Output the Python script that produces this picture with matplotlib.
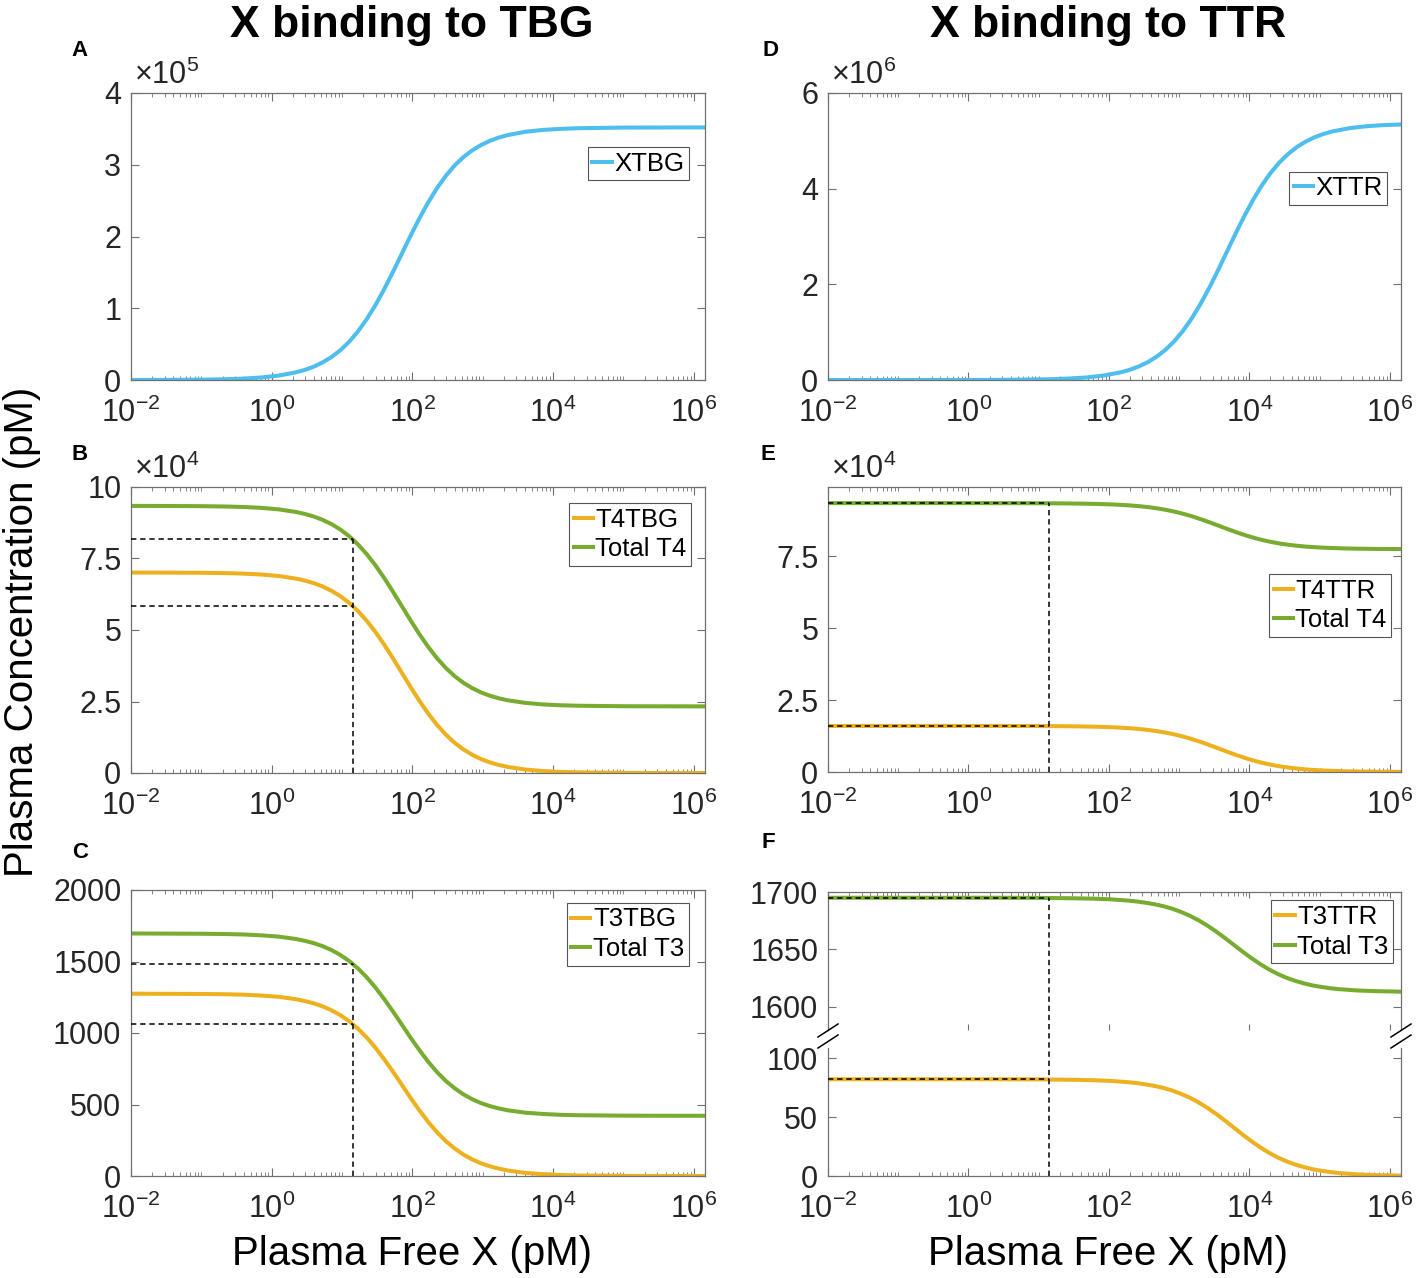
import matplotlib
matplotlib.use("Agg")
import matplotlib.pyplot as plt
import numpy as np
from matplotlib.lines import Line2D
from matplotlib.ticker import FixedLocator, LogLocator, NullFormatter, FuncFormatter

FONT = "Liberation Sans"
plt.rcParams["font.family"] = [FONT, "DejaVu Sans"]
plt.rcParams["mathtext.fontset"] = "custom"
plt.rcParams["mathtext.rm"] = FONT
plt.rcParams["mathtext.it"] = FONT + ":italic"
plt.rcParams["mathtext.bf"] = FONT + ":bold"

# ---- data ------------------------------------------------------------------
# x = plasma free X (pM), given as log10; samples are denser where curves bend

# left column (TBG): panels A, B, C share one x grid
LOG_X_TBG = [-2, -1.5, -1, -0.65, -0.4, -0.15, 0.1, 0.35, 0.475, 0.6, 0.725,
             0.85, 0.975, 1.1, 1.225, 1.35, 1.475, 1.6, 1.725, 1.85, 1.975,
             2.1, 2.225, 2.35, 2.475, 2.6, 2.725, 2.85, 2.975, 3.1, 3.225,
             3.35, 3.6, 3.85, 4.1, 4.35, 5, 5.5, 6, 6.16]
XTBG = [50, 160, 500, 1110, 1970, 3490, 6150, 10800, 14200, 18700, 24600,
        32000, 41400, 53100, 67500, 84600, 104400, 126700, 150800, 176000,
        201200, 225300, 247600, 267400, 284500, 298900, 310600, 320000, 327400,
        333300, 337800, 341200, 345900, 348500, 350000, 350900, 351800, 351900,
        352000, 352000]
T4TBG = [70090, 70070, 70000, 69880, 69710, 69410, 68880, 67950, 67260, 66370,
         65210, 63730, 61850, 59520, 56660, 53260, 49310, 44870, 40060, 35050,
         30040, 25230, 20790, 16840, 13440, 10580, 8250, 6370, 4890, 3730,
         2840, 2150, 1230, 690, 390, 220, 50, 20, 5, 3]
TOTAL_T4_TBG = [93390, 93370, 93300, 93180, 93010, 92710, 92180, 91250, 90560,
                89670, 88510, 87030, 85150, 82820, 79960, 76560, 72610, 68170,
                63360, 58350, 53340, 48530, 44090, 40140, 36740, 33880, 31550,
                29670, 28190, 27030, 26140, 25450, 24530, 23990, 23690, 23520,
                23350, 23320, 23305, 23303]
T3TBG = [1275, 1274, 1273, 1271, 1268, 1262, 1253, 1236, 1223, 1207, 1186,
         1159, 1125, 1083, 1031, 969, 897, 816, 729, 638, 546, 459, 378, 306,
         244, 193, 150, 116, 89, 68, 52, 39, 22, 13, 7, 4, 1, 0.3, 0.1, 0.1]
TOTAL_T3_TBG = [1696, 1695, 1694, 1692, 1689, 1683, 1674, 1657, 1644, 1628,
                1607, 1580, 1546, 1504, 1452, 1390, 1318, 1237, 1150, 1059,
                967, 880, 799, 727, 665, 614, 571, 537, 510, 489, 473, 460,
                443, 434, 428, 425, 422, 421.3, 421.1, 421.1]

# panel D
LOG_X_D = [-2, -1, 0, 0.5, 1.18, 1.43, 1.68, 1.93, 2.18, 2.305, 2.43, 2.555,
           2.68, 2.805, 2.93, 3.055, 3.18, 3.305, 3.43, 3.555, 3.68, 3.805,
           3.93, 4.055, 4.18, 4.305, 4.43, 4.555, 4.68, 4.805, 4.93, 5.055,
           5.18, 5.43, 5.68, 5.93, 6.16]
XTTR = [11, 112, 1120, 3540, 16900, 30000, 53100, 93600, 164300, 216900,
        285400, 373900, 487300, 630700, 809300, 1027000, 1288000, 1590000,
        1929000, 2297000, 2680000, 3063000, 3431000, 3770000, 4072000, 4333000,
        4551000, 4729000, 4873000, 4986000, 5075000, 5143000, 5196000, 5266000,
        5307000, 5330000, 5342000]

# panel E
LOG_X_E = [-2, -1, 0, 0.5, 1.08, 1.33, 1.58, 1.83, 2.08, 2.205, 2.33, 2.455,
           2.58, 2.705, 2.83, 2.955, 3.08, 3.205, 3.33, 3.455, 3.58, 3.705,
           3.83, 3.955, 4.08, 4.205, 4.33, 4.455, 4.58, 4.705, 4.83, 4.955,
           5.08, 5.33, 5.58, 5.83, 6.08, 6.16]
T4TTR = [16000, 16000, 16000, 15990, 15950, 15910, 15840, 15720, 15510, 15350,
         15150, 14880, 14550, 14120, 13580, 12930, 12160, 11250, 10240, 9140,
         8000, 6860, 5760, 4750, 3840, 3070, 2420, 1880, 1460, 1120, 850, 650,
         490, 280, 160, 90, 50, 42]
TOTAL_T4_TTR = [93400, 93400, 93400, 93390, 93350, 93310, 93240, 93120, 92910,
                92750, 92550, 92280, 91950, 91520, 90980, 90330, 89560, 88650,
                87640, 86540, 85400, 84260, 83160, 82150, 81240, 80470, 79820,
                79280, 78860, 78520, 78250, 78050, 77890, 77680, 77560, 77490,
                77450, 77440]

# panel F
LOG_X_F = [-2, -1, 0, 0.5, 1.0, 1.28, 1.53, 1.78, 2.03, 2.28, 2.405, 2.53,
           2.655, 2.78, 2.905, 3.03, 3.155, 3.28, 3.405, 3.53, 3.655, 3.78,
           3.905, 4.03, 4.155, 4.28, 4.405, 4.53, 4.655, 4.78, 4.905, 5.03,
           5.155, 5.28, 5.53, 5.78, 6.03, 6.16]
T3TTR = [82.0, 82.0, 82.0, 82.0, 81.9, 81.7, 81.5, 81.2, 80.6, 79.5, 78.7,
         77.6, 76.3, 74.6, 72.4, 69.6, 66.3, 62.3, 57.7, 52.5, 46.9, 41.0,
         35.1, 29.5, 24.3, 19.7, 15.7, 12.4, 9.7, 7.5, 5.7, 4.4, 3.3, 2.5,
         1.4, 0.8, 0.5, 0.3]
TOTAL_T3_TTR = [1695.0, 1695.0, 1695.0, 1695.0, 1694.9, 1694.7, 1694.5,
                1694.2, 1693.6, 1692.5, 1691.7, 1690.6, 1689.3, 1687.6,
                1685.4, 1682.6, 1679.3, 1675.3, 1670.7, 1665.5, 1659.9,
                1654.0, 1648.1, 1642.5, 1637.3, 1632.7, 1628.7, 1625.4,
                1622.7, 1620.5, 1618.7, 1617.4, 1616.3, 1615.5, 1614.4,
                1613.8, 1613.5, 1613.3]

# dashed reference: free X value and the concentrations read there
DASH_X = 14.1
DASH_B = [81700, 58400]
DASH_C = [1483, 1062]
DASH_E = [93340, 15940]
DASH_F = [1694.8, 81.8]

X_TBG = 10.0 ** np.array(LOG_X_TBG)
X_D = 10.0 ** np.array(LOG_X_D)
X_E = 10.0 ** np.array(LOG_X_E)
X_F = 10.0 ** np.array(LOG_X_F)
X_MIN, X_MAX = 1e-2, 10 ** 6.16
XTICKS = [1e-2, 1e0, 1e2, 1e4, 1e6]

BLUE, YELLOW, GREEN = "#4DBEEE", "#EDB120", "#77AC30"
AXCOL = "#262626"
SPINE = "#707070"
LW = 2.9
TICK_FS = 22
LEG_FS = 18.5
DASH_LS = (0, (3.5, 2.5))

W, H = 1417, 1278
fig = plt.figure(figsize=(W / 100, H / 100), dpi=100)


def pos(l, t, r, b):
    return [l / W, 1 - b / H, (r - l) / W, (b - t) / H]


def dec_fmt(v, p):
    return r"$\mathregular{10^{%d}}$" % int(round(np.log10(v)))


def style(ax, yticks, ylim, scale=1.0, xlabels=True):
    ax.set_xscale("log")
    ax.set_xlim(X_MIN, X_MAX)
    ax.set_ylim(*ylim)
    ax.xaxis.set_major_locator(FixedLocator(XTICKS))
    ax.xaxis.set_major_formatter(FuncFormatter(dec_fmt))
    ax.xaxis.set_minor_locator(LogLocator(base=10, subs=np.arange(1, 10), numticks=60))
    ax.xaxis.set_minor_formatter(NullFormatter())
    ax.set_yticks(yticks)
    ax.yaxis.set_major_formatter(FuncFormatter(lambda v, p: f"{v / scale:g}"))
    ax.tick_params(which="both", direction="in", top=True, right=True,
                   colors=SPINE, labelcolor=AXCOL, labelsize=TICK_FS)
    ax.tick_params(which="major", length=6, width=0.8)
    ax.tick_params(axis="y", pad=7)
    ax.tick_params(axis="x", pad=12.5)
    ax.tick_params(which="minor", length=3, width=0.6)
    if not xlabels:
        ax.tick_params(axis="x", labelbottom=False)
    for s in ax.spines.values():
        s.set_color(SPINE)
        s.set_linewidth(0.9)
    ax.patch.set_alpha(0)


def exp_label(ax, n):
    ax.text(0.005, 1.008, r"$\times\mathregular{10^{%d}}$" % n, transform=ax.transAxes,
            ha="left", va="bottom", fontsize=TICK_FS, color=AXCOL)


def legend(ax, anchor, handles=None):
    leg = ax.legend(handles=handles, loc="upper right", bbox_to_anchor=anchor,
                    fontsize=LEG_FS, handlelength=0.75, handletextpad=0.1,
                    borderpad=0.18, labelspacing=0.22, borderaxespad=0,
                    fancybox=False, framealpha=1, edgecolor="#555555")
    leg.get_frame().set_linewidth(0.8)


def dashes(ax, ys):
    for y in ys:
        ax.plot([X_MIN, DASH_X], [y, y], color="black", lw=1.1, ls=DASH_LS, zorder=5)
    ax.plot([DASH_X, DASH_X], [0, max(ys)], color="black", lw=1.1, ls=DASH_LS, zorder=5)


# ---- A -------------------------------------------------------------------
ax = fig.add_axes(pos(131, 93, 705, 380))
ax.plot(X_TBG, XTBG, color=BLUE, lw=LW, label="XTBG")
style(ax, [0, 1e5, 2e5, 3e5, 4e5], (0, 4e5), 1e5)
exp_label(ax, 5)
legend(ax, (0.972, 0.812))

# ---- B -------------------------------------------------------------------
ax = fig.add_axes(pos(131, 487, 705, 773))
ax.plot(X_TBG, T4TBG, color=YELLOW, lw=LW, label="T4TBG")
ax.plot(X_TBG, TOTAL_T4_TBG, color=GREEN, lw=LW, label="Total T4")
dashes(ax, DASH_B)
style(ax, [0, 2.5e4, 5e4, 7.5e4, 1e5], (0, 1e5), 1e4)
exp_label(ax, 4)
legend(ax, (0.976, 0.944))

# ---- C -------------------------------------------------------------------
ax = fig.add_axes(pos(131, 890, 705, 1176))
ax.plot(X_TBG, T3TBG, color=YELLOW, lw=LW, label="T3TBG")
ax.plot(X_TBG, TOTAL_T3_TBG, color=GREEN, lw=LW, label="Total T3")
dashes(ax, DASH_C)
style(ax, [0, 500, 1000, 1500, 2000], (0, 2000))
legend(ax, (0.972, 0.955))

# ---- D -------------------------------------------------------------------
ax = fig.add_axes(pos(828, 93, 1401, 380))
ax.plot(X_D, XTTR, color=BLUE, lw=LW, label="XTTR")
style(ax, [0, 2e6, 4e6, 6e6], (0, 6e6), 1e6)
exp_label(ax, 6)
legend(ax, (0.976, 0.726))

# ---- E -------------------------------------------------------------------
ax = fig.add_axes(pos(828, 487, 1401, 772))
ax.plot(X_E, T4TTR, color=YELLOW, lw=LW, label="T4TTR")
ax.plot(X_E, TOTAL_T4_TTR, color=GREEN, lw=LW, label="Total T4")
dashes(ax, DASH_E)
style(ax, [0, 2.5e4, 5e4, 7.5e4], (0, 9.9e4), 1e4)
exp_label(ax, 4)
legend(ax, (0.983, 0.695))

# ---- F (broken y axis) ---------------------------------------------------
ax_hi = fig.add_axes(pos(828, 892, 1401, 1030))
ax_lo = fig.add_axes(pos(828, 1048, 1401, 1176))
l_lo, = ax_lo.plot(X_F, T3TTR, color=YELLOW, lw=LW, label="T3TTR")
l_hi, = ax_hi.plot(X_F, TOTAL_T3_TTR, color=GREEN, lw=LW, label="Total T3")
style(ax_hi, [1600, 1650, 1700], (1580, 1700), xlabels=False)
style(ax_lo, [0, 50, 100], (0, 108.5))
ax_hi.spines["bottom"].set_visible(False)
ax_hi.tick_params(axis="x", which="minor", bottom=False)
ax_hi.tick_params(axis="x", which="major", bottom=True, length=4)
ax_lo.spines["top"].set_visible(False)
ax_lo.tick_params(axis="x", which="both", top=False)

ax_hi.plot([X_MIN, DASH_X], [DASH_F[0]] * 2, color="black", lw=1.1, ls=DASH_LS, zorder=5)
ax_lo.plot([X_MIN, DASH_X], [DASH_F[1]] * 2, color="black", lw=1.1, ls=DASH_LS, zorder=5)
# vertical dashed line runs through the break, from 0 up to the Total T3 level
top_disp = ax_hi.transData.transform((DASH_X, DASH_F[0]))
top_lo = ax_lo.transData.inverted().transform(top_disp)[1]
ax_lo.plot([DASH_X, DASH_X], [0, top_lo], color="black", lw=1.1, ls=DASH_LS,
           zorder=5, clip_on=False)
legend(ax_hi, (0.986, 0.94), handles=[l_lo, l_hi])

# break marks on both spines
yc = 1 - 1036 / H
for xs in (828, 1401):
    for off in (-5.5, 5.5):
        fig.add_artist(Line2D([(xs - 10) / W, (xs + 10) / W],
                              [yc - (off + 6.5) / H, yc - (off - 6.5) / H],
                              color="black", lw=1.1))

# ---- figure texts --------------------------------------------------------
fig.text(412 / W, 1 - 26 / H, "X binding to TBG", ha="center", va="center",
         fontsize=32, fontweight="bold")
fig.text(1108 / W, 1 - 26 / H, "X binding to TTR", ha="center", va="center",
         fontsize=32, fontweight="bold")
fig.text(22 / W, 1 - 632 / H, "Plasma Concentration (pM)", rotation=90,
         ha="center", va="center", fontsize=29)
fig.text(412 / W, 1 - 1254 / H, "Plasma Free X (pM)", ha="center", va="center",
         fontsize=29)
fig.text(1108 / W, 1 - 1254 / H, "Plasma Free X (pM)", ha="center", va="center",
         fontsize=29)
for letter, px, py in [("A", 80, 50), ("B", 80, 455), ("C", 80, 852),
                       ("D", 770, 50), ("E", 768, 455), ("F", 768, 842)]:
    fig.text(px / W, 1 - py / H, letter, ha="center", va="center",
             fontsize=16, fontweight="bold")

fig.savefig("out.png", dpi=100, facecolor="white")
